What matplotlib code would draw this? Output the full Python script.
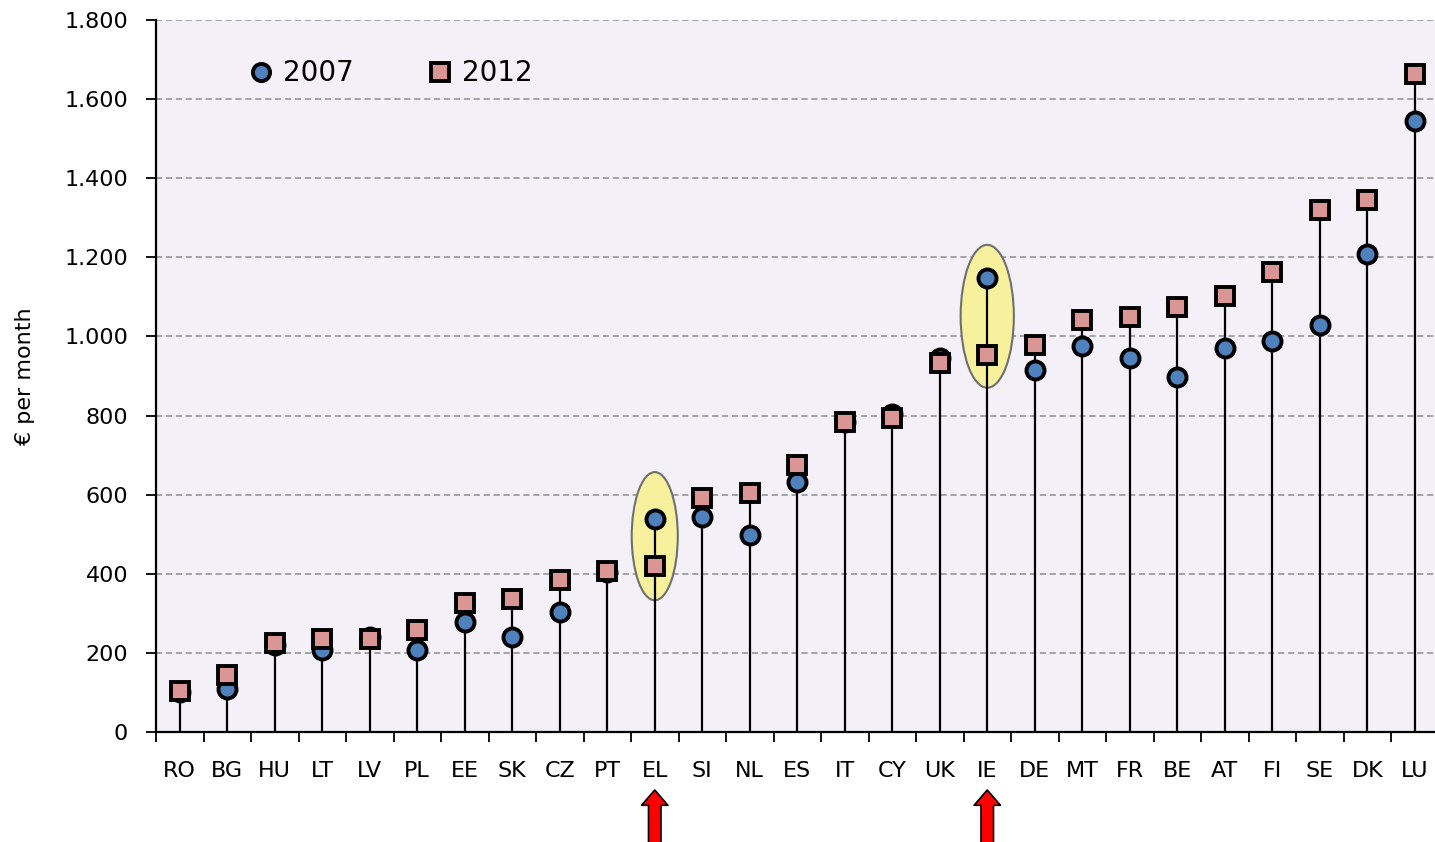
import matplotlib
matplotlib.use("Agg")
import matplotlib.pyplot as plt
from matplotlib.patches import Ellipse
from matplotlib.ticker import FuncFormatter, FixedLocator
import numpy as np

countries = ["RO", "BG", "HU", "LT", "LV", "PL", "EE", "SK", "CZ", "PT",
             "EL", "SI", "NL", "ES", "IT", "CY", "UK", "IE", "DE", "MT",
             "FR", "BE", "AT", "FI", "SE", "DK", "LU"]

wage_2007 = [100, 109, 220, 207, 240, 207, 278, 240, 303, 405,
             538, 543, 498, 632, 784, 804, 945, 1148, 915, 976,
             945, 897, 971, 988, 1029, 1208, 1544]

wage_2012 = [104, 144, 225, 235, 235, 258, 326, 336, 384, 407,
             420, 592, 604, 675, 784, 794, 933, 953, 978, 1041,
             1049, 1074, 1102, 1163, 1320, 1345, 1663]

# highlighted countries: (country, ellipse centre, width, height)
highlights = [("EL", 495, 0.97, 324), ("IE", 1051, 1.12, 361)]

y_ticks = [0, 200, 400, 600, 800, 1000, 1200, 1400, 1600, 1800]

W, H = 1435, 842
fig = plt.figure(figsize=(W / 100, H / 100), dpi=100)
ax = fig.add_axes([156 / W, (H - 732) / H, 1282.5 / W, 712 / H])
ax.set_facecolor("#f3f1f7")

x = np.arange(len(countries))

ax.set_xlim(-0.5, len(countries) - 0.5)
ax.set_ylim(0, 1800)

for c, cy, ew, eh in highlights:
    i = countries.index(c)
    ax.add_patch(Ellipse((i, cy), ew, eh, facecolor="#f7f19e",
                         edgecolor="#6f6f6f", lw=1.5, zorder=2))

tops = np.maximum(wage_2007, wage_2012)
ax.vlines(x, 0, tops, color="black", lw=1.6, zorder=3)

ax.plot(x, wage_2007, "o", ms=13, mfc="#4f81bd", mec="black",
        mew=2.8, label="2007", zorder=4, linestyle="none")
ax.plot(x, wage_2012, "s", ms=13.5, mfc="#d99694", mec="black",
        mew=2.8, label="2012", zorder=5, linestyle="none")

ax.yaxis.set_major_locator(FixedLocator(y_ticks))
ax.yaxis.set_major_formatter(
    FuncFormatter(lambda v, p: f"{int(v):,}".replace(",", "."))
)
ax.grid(axis="y", color="#8c8c8c", linestyle=(0, (4, 2.5)), lw=1.1)
ax.set_axisbelow(True)

ax.set_xticks(np.arange(-0.5, len(countries)), minor=False)
ax.set_xticklabels([])
ax.set_xticks(x, minor=True)
ax.set_xticklabels(countries, minor=True)
ax.tick_params(axis="x", which="major", length=7, width=1.3, direction="out")
ax.tick_params(axis="x", which="minor", length=0, pad=21, labelsize=16)
ax.tick_params(axis="y", length=7, width=1.3, pad=13, labelsize=16)

for s in ["top", "right"]:
    ax.spines[s].set_visible(False)
for s in ["left", "bottom"]:
    ax.spines[s].set_linewidth(1.6)

ax.set_ylabel("€ per month", fontsize=16)
ax.yaxis.set_label_coords(-0.094, 0.5)

ax.legend(loc="upper left", bbox_to_anchor=(0.056, 0.98), ncol=2,
          frameon=False, fontsize=20, handlelength=0.6, handletextpad=0.5,
          columnspacing=2.8, markerscale=0.95)

for c, _, _, _ in highlights:
    i = countries.index(c)
    ax.annotate("", xy=(i, -58 / 712), xytext=(i, -112 / 712),
                xycoords=("data", "axes fraction"),
                textcoords=("data", "axes fraction"),
                arrowprops=dict(
                    arrowstyle="simple,head_length=0.55,head_width=0.95,tail_width=0.45",
                    fc="#ff0000", ec="black", lw=1.2,
                    shrinkA=0, shrinkB=0, mutation_scale=20),
                annotation_clip=False)

fig.savefig("out.png", dpi=100)
